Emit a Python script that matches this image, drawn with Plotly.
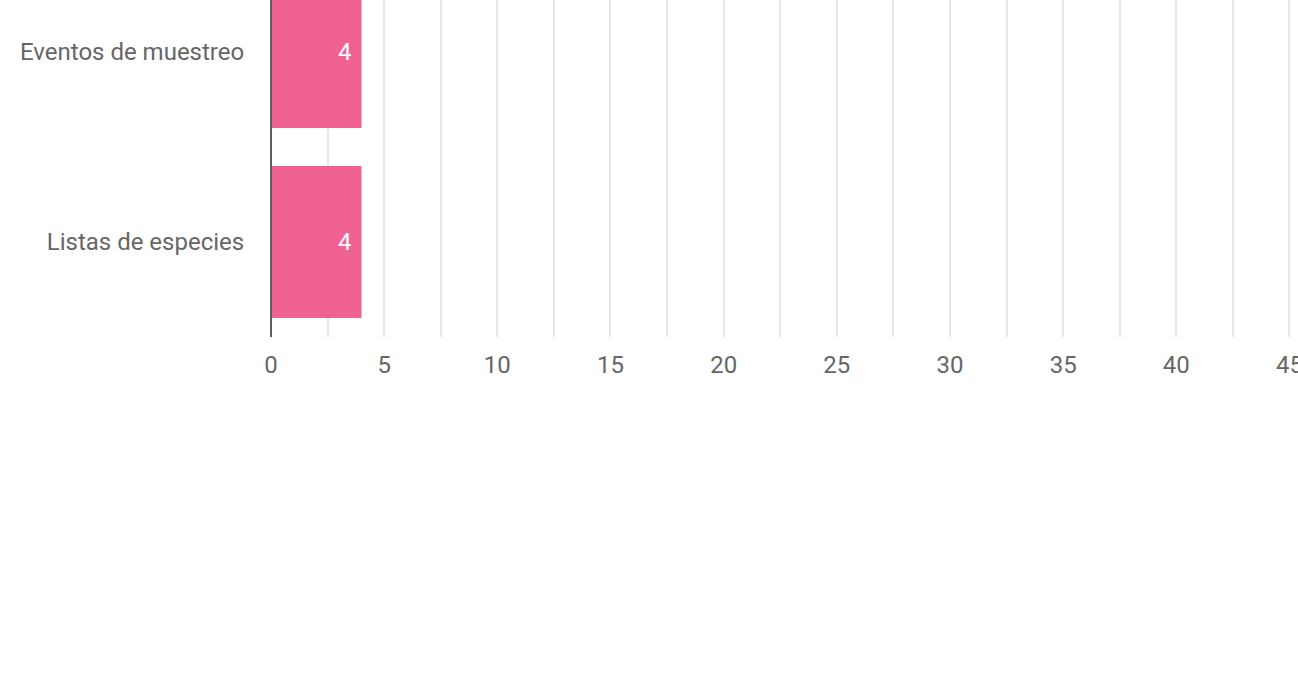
import plotly.graph_objects as go

categories = ["Listas de especies", "Eventos de muestreo"]
values = [4, 4]
x_ticks = [0, 5, 10, 15, 20, 25, 30, 35, 40, 45]

fig = go.Figure(go.Bar(
    x=values, y=categories, orientation="h",
    marker=dict(color="#f06292", line=dict(width=0)),
    width=0.8,
    hoverinfo="skip",
))

for v, c in zip(values, categories):
    fig.add_annotation(
        x=v, y=c, xref="x", yref="y", text=str(v), showarrow=False,
        xanchor="right", yanchor="middle", xshift=-8,
        font=dict(family="Roboto", size=24, color="white"),
    )

fig.update_layout(
    width=1298, height=700,
    margin=dict(l=271, r=4, t=0, b=363, autoexpand=False),
    paper_bgcolor="white", plot_bgcolor="white",
    showlegend=False,
    font=dict(family="Roboto", size=24, color="#666666"),
    xaxis=dict(
        range=[0, 45.2], tickvals=x_ticks, ticktext=[str(t) for t in x_ticks],
        showgrid=True, gridcolor="#e6e6e6", gridwidth=2,
        minor=dict(dtick=2.5, tick0=0, showgrid=True, gridcolor="#e6e6e6", gridwidth=2, ticks=""),
        zeroline=False, showline=False,
        ticks="outside", ticklen=6, tickcolor="rgba(0,0,0,0)",
        tickfont=dict(family="Roboto", size=24, color="#666666"),
        ticklabeloverflow="allow",
        automargin=False, fixedrange=True,
    ),
    yaxis=dict(
        range=[-0.5, 1.274], showgrid=False, zeroline=False,
        showline=False,
        ticks="outside", ticklen=21, tickcolor="rgba(0,0,0,0)",
        tickfont=dict(family="Roboto", size=24, color="#666666"),
        automargin=False, fixedrange=True,
    ),
)
# baseline at x = 0 (drawn in paper coords so it is not clipped by the plot area)
fig.add_shape(type="line", xref="paper", yref="paper", x0=0, x1=0, y0=0, y1=1,
              line=dict(color="#5f5f5f", width=2), layer="above")

fig.write_html("out.html", config={"displayModeBar": False},
               post_script="document.body.style.margin='0';")
